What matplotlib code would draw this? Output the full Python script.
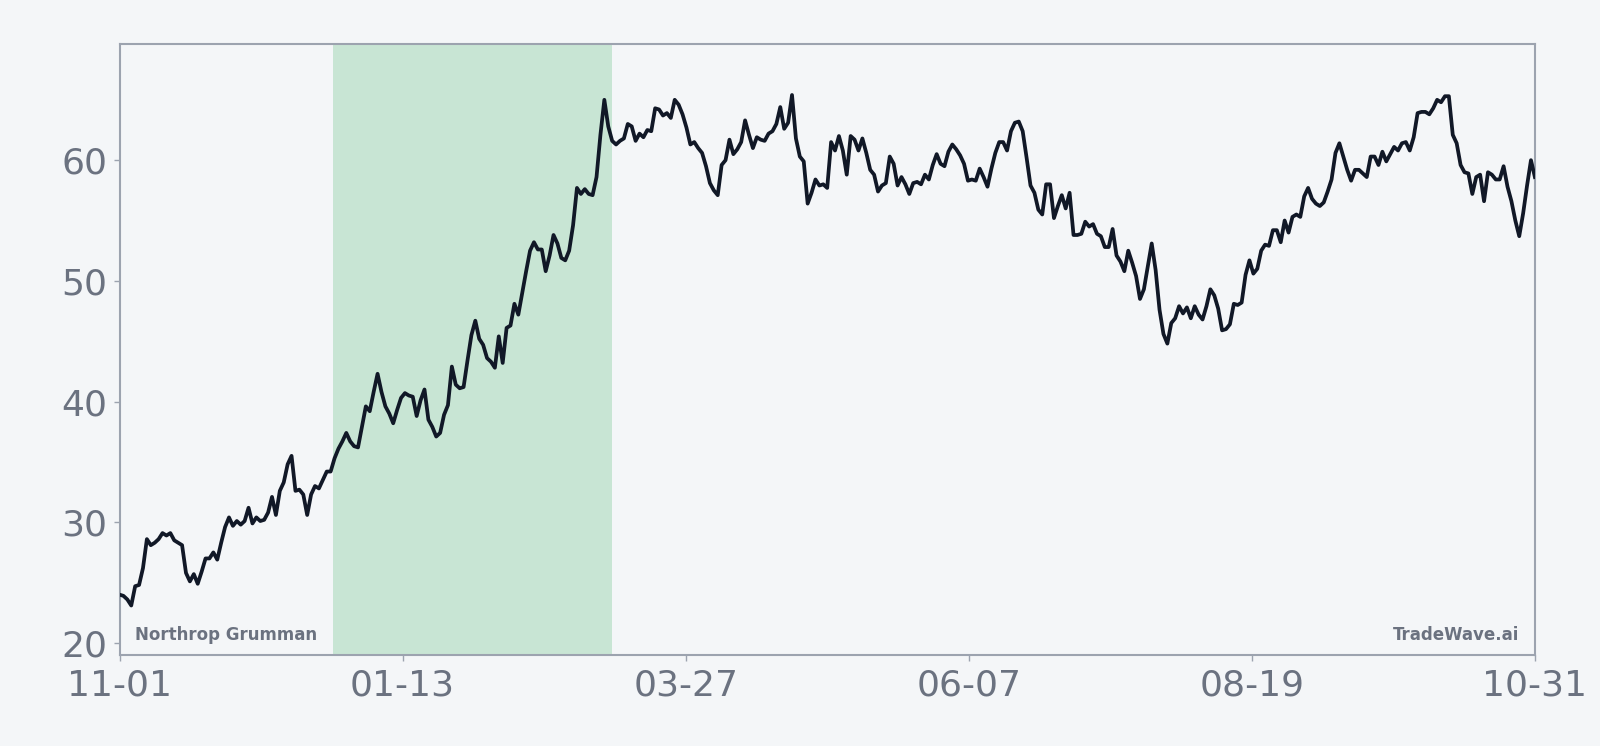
import matplotlib.pyplot as plt
import numpy as np
import pandas as pd

# Northrop Grumman daily close (11-01 .. 10-31)
prices = [
    24.0, 23.9, 23.6, 23.1, 24.7, 24.8, 26.2, 28.6, 28.1, 28.3, 28.6, 29.1, 28.9, 29.1,
    28.5, 28.3, 28.1, 25.8, 25.1, 25.7, 24.9, 25.9, 27.0, 27.0, 27.5, 26.9, 28.3, 29.6,
    30.4, 29.7, 30.1, 29.8, 30.1, 31.2, 29.9, 30.4, 30.1, 30.2, 30.8, 32.1, 30.6, 32.6,
    33.3, 34.8, 35.5, 32.6, 32.7, 32.3, 30.6, 32.3, 33.0, 32.8,
    33.5, 34.2, 34.2, 35.3, 36.1, 36.7, 37.4, 36.7, 36.3, 36.2, 37.9, 39.6, 39.2, 40.8,
    42.3, 40.8, 39.6, 39.0, 38.2, 39.3, 40.3, 40.7, 40.5, 40.4, 38.8, 40.1, 41.0, 38.5,
    37.9, 37.1, 37.4, 38.9, 39.7, 42.9, 41.4, 41.1, 41.2, 43.4, 45.5, 46.7, 45.2, 44.7,
    43.6, 43.3, 42.8, 45.4, 43.2, 46.1,
    46.3, 48.1, 47.2, 49.0, 50.8, 52.5, 53.2, 52.6, 52.6, 50.8, 52.1, 53.8, 53.1, 51.9,
    51.7, 52.5, 54.6, 57.7, 57.2, 57.6, 57.2, 57.1, 58.6, 62.1, 65.0, 62.8, 61.6, 61.3,
    61.6, 61.8, 63.0, 62.8, 61.6, 62.2, 61.9, 62.5, 62.4, 64.3, 64.2, 63.7, 63.9, 63.5,
    65.0, 64.6, 63.8, 62.7, 61.3, 61.5, 61.0,
    60.6, 59.5, 58.1, 57.5, 57.1, 59.6, 60.0, 61.7, 60.5, 60.9, 61.5, 63.3, 62.1, 61.0,
    61.9, 61.7, 61.6, 62.2, 62.4, 63.0, 64.4, 62.6, 63.1, 65.4, 61.8, 60.3, 59.9, 56.4,
    57.3, 58.4, 57.9, 58.0, 57.7, 61.5, 60.8, 62.0, 60.8, 58.8, 62.0, 61.7, 60.8, 61.8,
    60.6, 59.2, 58.8, 57.4, 57.9, 58.1, 60.3,
    59.7, 57.9, 58.6, 58.0, 57.2, 58.1, 58.2, 58.0, 58.8, 58.4, 59.6, 60.5, 59.7, 59.5,
    60.7, 61.3, 60.9, 60.4, 59.7, 58.3, 58.4, 58.3, 59.3, 58.6, 57.8, 59.3, 60.6, 61.5,
    61.5, 60.8, 62.4, 63.1, 63.2, 62.4, 60.2, 57.9, 57.3, 55.9, 55.5, 58.0, 58.0, 55.2,
    56.2, 57.1, 56.0, 57.3, 53.8, 53.8,
    53.9, 54.9, 54.5, 54.7, 53.9, 53.7, 52.8, 52.8, 54.3, 52.1, 51.6, 50.8, 52.5, 51.5,
    50.4, 48.5, 49.3, 51.2, 53.1, 50.9, 47.6, 45.6, 44.8, 46.5, 46.9, 47.9, 47.3, 47.8,
    46.9, 47.9, 47.2, 46.8, 47.9, 49.3, 48.8, 47.7, 45.9, 46.0, 46.4, 48.1, 48.0, 48.2,
    50.5, 51.7, 50.6, 51.0, 52.5,
    53.0, 52.9, 54.2, 54.2, 53.2, 55.0, 54.0, 55.3, 55.5, 55.3, 57.0, 57.7, 56.8, 56.4,
    56.2, 56.5, 57.4, 58.4, 60.6, 61.4, 60.3, 59.2, 58.3, 59.2, 59.2, 58.9, 58.6, 60.3,
    60.3, 59.6, 60.7, 59.9, 60.5, 61.1, 60.8, 61.4, 61.5, 60.8, 61.9, 63.9, 64.0, 64.0,
    63.8, 64.3, 65.0, 64.8, 65.3, 65.3, 62.1, 61.4, 59.6, 59.0, 58.9, 57.2, 58.6, 58.8,
    56.6,
    59.0, 58.8, 58.4, 58.4, 59.5, 57.8, 56.6, 55.0, 53.7, 55.6, 57.9, 60.0, 58.6,
]
start_date = "2023-11-01"
end_date = "2024-10-31"
shade_start = "2023-12-26"
shade_end = "2024-03-07"
tick_labels = ["11-01", "01-13", "03-27", "06-07", "08-19", "10-31"]

dates = pd.date_range(start_date, end_date, periods=len(prices))

bg = "#f4f6f8"
grey = "#6b7280"
spine = "#9ca3af"

fig = plt.figure(figsize=(16, 7.46), dpi=100, facecolor=bg)
ax = fig.add_axes([0.0747, 0.122, 0.8846, 0.8186])
ax.set_facecolor(bg)

ax.axvspan(pd.Timestamp(shade_start), pd.Timestamp(shade_end), color="#c8e5d4", lw=0, zorder=1)
ax.plot(dates, prices, color="#111827", lw=2.7, zorder=3)

ax.set_xlim(dates[0], dates[-1])
ax.set_ylim(19.0, 69.6)
ax.set_xticks(pd.date_range(start_date, end_date, periods=len(tick_labels)))
ax.set_xticklabels(tick_labels)
ax.set_yticks([20, 30, 40, 50, 60])

ax.tick_params(axis="both", colors=spine, labelcolor=grey, labelsize=26, length=4, width=1)
ax.tick_params(axis="x", pad=6)
ax.tick_params(axis="y", pad=5)
for s in ax.spines.values():
    s.set_color(spine)
    s.set_linewidth(1.5)

ax.text(0.011, 0.025, "Northrop Grumman", transform=ax.transAxes, fontsize=12,
        fontweight="bold", color=grey, ha="left", va="baseline")
ax.text(0.989, 0.025, "TradeWave.ai", transform=ax.transAxes, fontsize=12,
        fontweight="bold", color=grey, ha="right", va="baseline")

fig.savefig("out.png", dpi=100, facecolor=bg)
